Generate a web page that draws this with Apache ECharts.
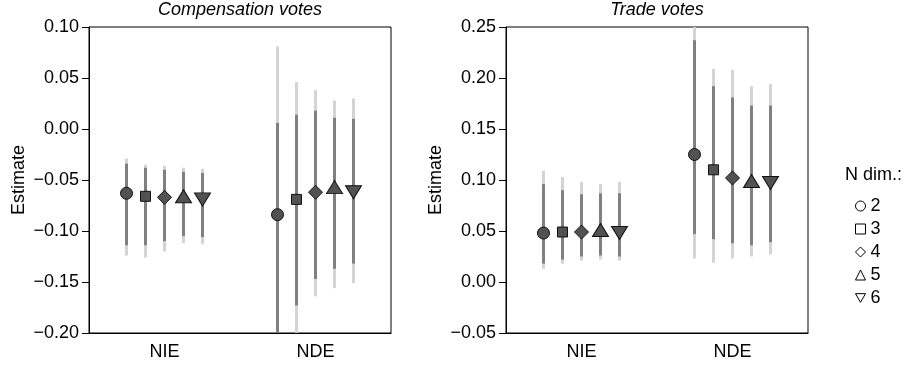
<!DOCTYPE html>
<html>
<head>
<meta charset="utf-8">
<script src="https://cdn.jsdelivr.net/npm/echarts@6/dist/echarts.min.js"></script>
<style>html,body{margin:0;padding:0;background:#fff;}#c{width:909px;height:368px;}</style>
</head>
<body>
<div id="c"></div>
<script>
// ---- data ----
const categories = ['NIE', 'NDE'];
const dims = ['2', '3', '4', '5', '6'];
const panelTitles = ['Compensation votes', 'Trade votes'];
const yTicksComp = { min: -0.20, max: 0.10, step: 0.05 };
const yTicksTrade = { min: -0.05, max: 0.25, step: 0.05 };

// Compensation votes: one row per N dim, [NIE, NDE]
const compEst     = [[-0.063, -0.084], [-0.066, -0.069], [-0.067, -0.062], [-0.066, -0.057], [-0.069, -0.062]];
const compDarkLo  = [[-0.114, -0.215], [-0.114, -0.173], [-0.110, -0.147], [-0.105, -0.137], [-0.106, -0.132]];
const compDarkHi  = [[-0.034,  0.006], [-0.038,  0.014], [-0.040,  0.018], [-0.042,  0.011], [-0.043,  0.010]];
const compLightLo = [[-0.124, -0.260], [-0.126, -0.225], [-0.120, -0.164], [-0.112, -0.156], [-0.113, -0.151]];
const compLightHi = [[-0.029,  0.081], [-0.035,  0.046], [-0.036,  0.038], [-0.038,  0.028], [-0.039,  0.030]];

// Trade votes
const tradeEst     = [[0.048, 0.125], [0.049, 0.110], [0.049, 0.102], [0.051, 0.099], [0.048, 0.097]];
const tradeDarkLo  = [[0.018, 0.047], [0.022, 0.042], [0.025, 0.038], [0.026, 0.036], [0.025, 0.039]];
const tradeDarkHi  = [[0.096, 0.237], [0.090, 0.192], [0.086, 0.181], [0.087, 0.173], [0.087, 0.173]];
const tradeLightLo = [[0.013, 0.023], [0.018, 0.019], [0.021, 0.023], [0.022, 0.025], [0.021, 0.027]];
const tradeLightHi = [[0.109, 0.260], [0.103, 0.209], [0.098, 0.208], [0.096, 0.192], [0.098, 0.194]];

// ---- styles ----
const FONT = 'Liberation Sans, Arial, Helvetica, sans-serif';
const symbols = ['circle', 'rect', 'diamond', 'triangle', 'path://M0,0L10,0L5,8.66Z'];
const symbolSizes = [12, 10, [14, 14], [16, 13], [16, 13]];
const dodgePx = 19;

function fmt(v) {
  const r = Math.round(v * 100) / 100;
  if (Math.abs(r) < 1e-9) return '0.00';
  return (r < 0 ? '\u2212' : '') + Math.abs(r).toFixed(2);
}

const panels = [
  { est: compEst, dLo: compDarkLo, dHi: compDarkHi, lLo: compLightLo, lHi: compLightHi, ticks: yTicksComp, left: 89 },
  { est: tradeEst, dLo: tradeDarkLo, dHi: tradeDarkHi, lLo: tradeLightLo, lHi: tradeLightHi, ticks: yTicksTrade, left: 506 }
];

const grids = [], xAxes = [], yAxes = [], series = [], titles = [];
panels.forEach((p, pi) => {
  grids.push({ left: p.left, top: 27, width: 302, height: 306, show: true, borderColor: '#000', borderWidth: 1, containLabel: false });
  xAxes.push({
    type: 'category', gridIndex: pi, data: categories, boundaryGap: true,
    axisLine: { show: true, onZero: false, lineStyle: { color: '#000', width: 1 } },
    axisTick: { show: false },
    axisLabel: { color: '#000', fontSize: 18, fontFamily: FONT, margin: 10 },
    splitLine: { show: false }
  });
  yAxes.push({
    type: 'value', gridIndex: pi, min: p.ticks.min, max: p.ticks.max, interval: p.ticks.step,
    name: 'Estimate', nameLocation: 'middle', nameGap: 61, nameRotate: 90,
    nameTextStyle: { color: '#000', fontSize: 18, fontFamily: FONT },
    axisLine: { show: true, onZero: false, lineStyle: { color: '#000', width: 1 } },
    axisTick: { show: true, length: 7, lineStyle: { color: '#000' } },
    axisLabel: { color: '#000', fontSize: 18, fontFamily: FONT, margin: 10, formatter: fmt },
    splitLine: { show: false }
  });
  titles.push({
    text: panelTitles[pi], left: p.left + 151, top: 1, textAlign: 'center', padding: 0,
    textStyle: { fontSize: 18, fontStyle: 'italic', fontWeight: 'normal', color: '#000', fontFamily: FONT }
  });

  dims.forEach((dName, d) => {
    const off = (d - 2) * dodgePx;
    series.push({
      type: 'custom', xAxisIndex: pi, yAxisIndex: pi, z: 1, silent: true,
      data: categories.map((c, ci) => [ci, p.lLo[d][ci], p.lHi[d][ci], p.dLo[d][ci], p.dHi[d][ci]]),
      renderItem: function (params, api) {
        const cs = params.coordSys;
        const clamp = y => Math.max(cs.y, Math.min(cs.y + cs.height, y));
        const ci = api.value(0);
        const x = api.coord([ci, api.value(1)])[0] + off;
        const l1 = clamp(api.coord([ci, api.value(1)])[1]);
        const l2 = clamp(api.coord([ci, api.value(2)])[1]);
        const d1 = clamp(api.coord([ci, api.value(3)])[1]);
        const d2 = clamp(api.coord([ci, api.value(4)])[1]);
        return {
          type: 'group', children: [
            { type: 'line', shape: { x1: x, y1: l1, x2: x, y2: l2 }, style: { stroke: '#d4d4d4', lineWidth: 3 } },
            { type: 'line', shape: { x1: x, y1: d1, x2: x, y2: d2 }, style: { stroke: '#808080', lineWidth: 3 } }
          ]
        };
      }
    });
    series.push({
      type: 'scatter', name: dName, xAxisIndex: pi, yAxisIndex: pi, z: 3, silent: true,
      data: categories.map((c, ci) => [ci, p.est[d][ci]]),
      symbol: symbols[d], symbolSize: symbolSizes[d], symbolOffset: [off, 0],
      itemStyle: { color: '#525252', borderColor: '#111', borderWidth: 1, opacity: 1 }
    });
  });
});

titles.push({
  text: 'N dim.:', left: 845, top: 166, padding: 0,
  textStyle: { fontSize: 18, fontWeight: 'normal', color: '#000', fontFamily: FONT }
});

const chart = echarts.init(document.getElementById('c'), null, { renderer: 'canvas' });
chart.setOption({
  animation: false,
  backgroundColor: '#fff',
  title: titles,
  grid: grids,
  xAxis: xAxes,
  yAxis: yAxes,
  legend: {
    orient: 'vertical', left: 855, top: 197, padding: 0, itemGap: 5,
    itemWidth: 10, itemHeight: 10, selectedMode: false,
    data: dims.map((d, i) => ({ name: d, icon: symbols[i] })),
    itemStyle: { color: '#fff', borderColor: '#000', borderWidth: 1 },
    textStyle: { fontSize: 18, color: '#000', fontFamily: FONT, padding: [0, 0, 0, 0] }
  },
  series: series
});
</script>
</body>
</html>
